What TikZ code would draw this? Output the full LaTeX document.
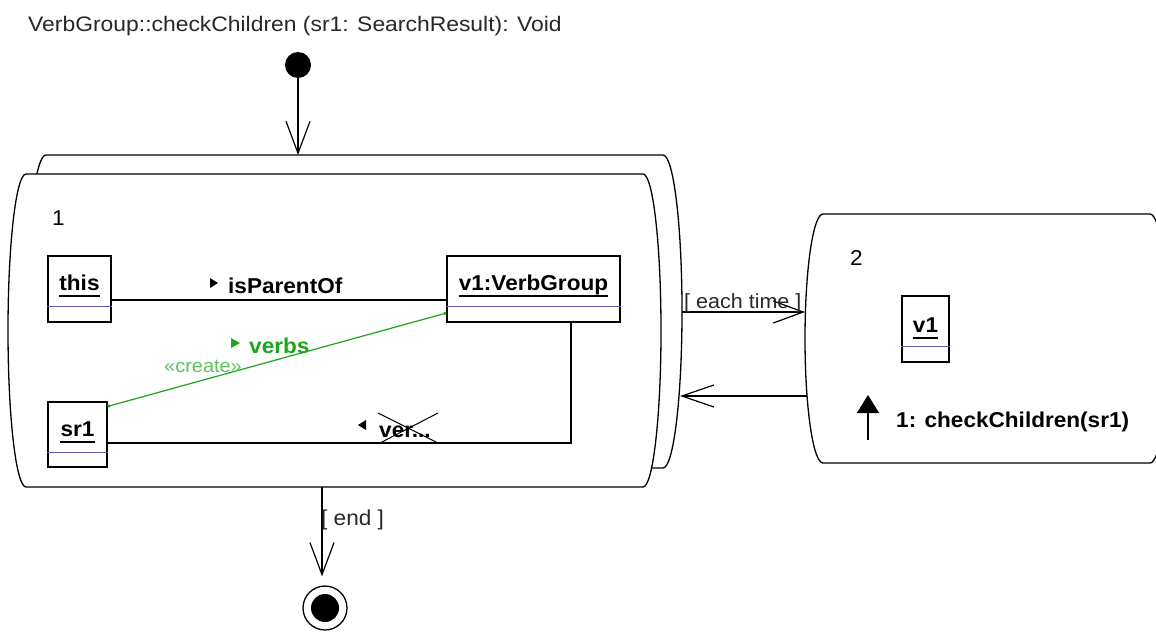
\documentclass[tikz,border=0pt]{standalone}
\usepackage{fontspec}
\setmainfont{Liberation Sans}[FakeStretch=1.05]
\newfontfamily\ttlfont{Liberation Sans}[FakeStretch=1.09]
\usetikzlibrary{arrows.meta,calc}
\definecolor{sepblue}{RGB}{95,95,175}
\definecolor{lnkgreen}{RGB}{30,165,30}
\definecolor{crgreen}{RGB}{95,195,95}
\definecolor{ttl}{RGB}{40,40,40}
\tikzset{
  obj/.style={draw, line width=1.2pt, fill=white, inner sep=0pt},
  lbl/.style={font=\fontsize{21.5}{25}\selectfont\bfseries, inner sep=0pt, anchor=base},
  txt/.style={font=\fontsize{21.5}{25}\selectfont, inner sep=0pt, anchor=base west},
  btxt/.style={font=\fontsize{21.5}{25}\selectfont\bfseries, inner sep=0pt, anchor=base west},
  ln/.style={line width=1.2pt},
  sepline/.style={draw=sepblue, line width=1pt},
  uline/.style={line width=1.3pt},
  actshape/.style={draw, line width=1.3pt, fill=white},
  openarrow/.style={-{Straight Barb[length=32pt,width=24pt]}},
  dotends/.style={{Square[length=2.5pt,width=2.5pt]}-{Square[length=2.5pt,width=2.5pt]}},
}
\begin{document}
\begin{tikzpicture}[x=1pt,y=-1pt]
\useasboundingbox (0,0) rectangle (1156,632);
\clip (0,0) rectangle (1156,632);
\fill[white] (0,0) rectangle (1156,632);

% title
\node[txt, text=ttl, font=\ttlfont\fontsize{21}{25}\selectfont] (title) at (28,31) {VerbGroup::checkChildren (sr1: SearchResult): Void};

% activity 1 (stacked: back and front)
\path[actshape] (46,155) -- (663,155)
  .. controls (673.5,155) and (682,225.1) .. (682,311.5)
  .. controls (682,397.9) and (673.5,468) .. (663,468)
  -- (46,468)
  .. controls (35.5,468) and (27,397.9) .. (27,311.5)
  .. controls (27,225.1) and (35.5,155) .. (46,155) -- cycle;
\path[actshape] (26,174) -- (643,174)
  .. controls (652.9,174) and (661,244.1) .. (661,330.5)
  .. controls (661,416.9) and (652.9,487) .. (643,487)
  -- (26,487)
  .. controls (16.1,487) and (8,416.9) .. (8,330.5)
  .. controls (8,244.1) and (16.1,174) .. (26,174) -- cycle;

% activity 2
\path[actshape] (823,214) -- (1150,214)
  .. controls (1159.9,214) and (1168,269.7) .. (1168,338.5)
  .. controls (1168,407.3) and (1159.9,463) .. (1150,463)
  -- (823,463)
  .. controls (813.1,463) and (805,407.3) .. (805,338.5)
  .. controls (805,269.7) and (813.1,214) .. (823,214) -- cycle;

% connector end points on the activity borders
\coordinate (a1top) at (298,155);
\coordinate (a1bot) at (322,487);
\coordinate (a1r1) at (682,312);
\coordinate (a2l1) at (805,312);
\coordinate (a2l2) at (807,396);
\coordinate (a1r2) at (680,396);

% activity numbers
\node[txt] (n1) at (52,225) {1};
\node[txt] (n2) at (850,265) {2};

% objects of activity 1
\node[obj, minimum width=63pt, minimum height=66pt] (this) at (79.5,289) {};
\draw[sepline] ($(this.south west)+(0,-16)$) -- ($(this.south east)+(0,-16)$);
\node[lbl] (thisL) at (79.5,290) {this};
\draw[uline] ($(thisL.base west)+(0,6)$) -- ($(thisL.base east)+(0,6)$);

\node[obj, minimum width=173pt, minimum height=66pt] (v1g) at (533.5,289) {};
\draw[sepline] ($(v1g.south west)+(0,-16)$) -- ($(v1g.south east)+(0,-16)$);
\node[lbl] (v1gL) at (533.5,290) {v1:VerbGroup};
\draw[uline] ($(v1gL.base west)+(0,6)$) -- ($(v1gL.base east)+(0,6)$);

\node[obj, minimum width=59pt, minimum height=65pt] (sr1) at (77.5,434.5) {};
\draw[sepline] ($(sr1.south west)+(0,-15)$) -- ($(sr1.south east)+(0,-15)$);
\node[lbl] (sr1L) at (77.5,436) {sr1};
\draw[uline] ($(sr1L.base west)+(0,6)$) -- ($(sr1L.base east)+(0,6)$);

% links
\draw[ln, dotends] ($(this.east)+(0,11)$) -- ($(v1g.west)+(0,11)$);
\fill (210,278) -- (218,283) -- (210,288) -- cycle;
\node[btxt] (isp) at (228,293) {isParentOf};

\draw[ln, draw=lnkgreen, dotends] ($(sr1.north east)+(0,5)$) -- ($(v1g.west)+(0,24)$);
\fill[lnkgreen] (231,338) -- (240,343) -- (231,348) -- cycle;
\node[btxt, text=lnkgreen] (verbs) at (249,353) {verbs};
\node[txt, text=crgreen, font=\fontsize{19}{22}\selectfont] (create) at (164,372) {«create»};

\draw[ln, dotends] ($(v1g.south)+(37.5,0)$) |- ($(sr1.east)+(0,8.5)$);
\fill (366,420) -- (358,425) -- (366,430) -- cycle;
\node[btxt] (ver) at (379,437) {ver...};
\draw[line width=1pt] (378,413) -- (438,443);
\draw[line width=1pt] (380,443) -- (438,413);

% activity 2 content
\node[obj, minimum width=47pt, minimum height=66pt] (v1) at (925.5,329) {};
\draw[sepline] ($(v1.south west)+(0,-16)$) -- ($(v1.south east)+(0,-16)$);
\node[lbl] (v1L) at (925.5,332) {v1};
\draw[uline] ($(v1L.base west)+(0,6)$) -- ($(v1L.base east)+(0,6)$);
\coordinate (upA) at (868,440);
\coordinate (upB) at (868,395);
\draw[ln, -{Triangle[length=18pt,width=22pt]}] (upA) -- (upB);
\node[btxt] (call) at (896,427) {1: checkChildren(sr1)};

% start and end nodes
\node[circle, fill=black, minimum size=26pt, inner sep=0pt] (start) at (298,65) {};
\node[circle, draw, line width=1.3pt, fill=white, minimum size=44pt, inner sep=0pt] (endo) at (325,608) {};
\node[circle, fill=black, minimum size=28pt, inner sep=0pt] (endi) at (endo) {};

% transitions
\draw[ln, openarrow] (start) -- (a1top);
\draw[ln, openarrow, shorten >=9pt] (a1bot) -- (a1bot |- endo.north);
\node[txt, text=ttl] (endlbl) at (321,525) {[ end ]};
\draw[ln, -{Straight Barb[length=30pt,width=22pt]}] (a1r1) -- (a2l1);
\node[txt, text=ttl, font=\fontsize{20.5}{24}\selectfont] (each) at (684,308) {[ each time ]};
\draw[ln, -{Straight Barb[length=32pt,width=22pt]}] (a2l2) -- (a1r2);
\end{tikzpicture}
\end{document}
